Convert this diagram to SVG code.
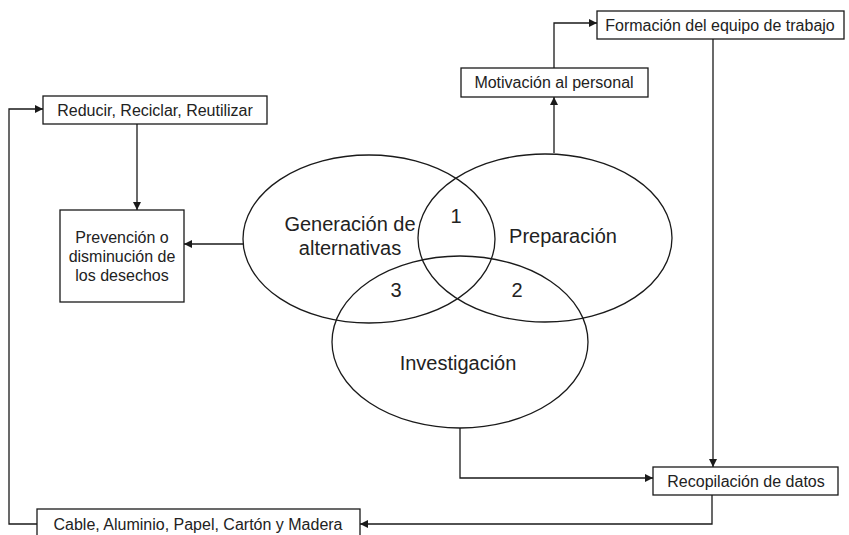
<svg xmlns="http://www.w3.org/2000/svg" width="849" height="535" viewBox="0 0 849 535">
  <style>
    .box { fill: #fff; stroke: #1a1a1a; stroke-width: 1.3; }
    .ell { fill: none; stroke: #1a1a1a; stroke-width: 1.3; }
    .wire { fill: none; stroke: #1a1a1a; stroke-width: 1.3; }
    .t { font-family: "Liberation Sans", Arial, sans-serif; font-size: 16px; fill: #222; text-anchor: middle; }
    .big { font-size: 20px; }
  </style>
  <defs>
    <marker id="arrow" viewBox="0 0 10 10" refX="10" refY="5" markerWidth="8" markerHeight="8" markerUnits="userSpaceOnUse" orient="auto">
      <path d="M0,0 L10,5 L0,10 z" fill="#1a1a1a"/>
    </marker>
  </defs>

  <rect width="849" height="535" fill="#fff"/>

  <!-- Venn circles -->
  <g id="generacion">
    <ellipse class="ell" cx="369" cy="239" rx="126" ry="84"/>
    <text class="t big" x="350" y="231">Generación de</text>
    <text class="t big" x="350" y="255">alternativas</text>
  </g>
  <g id="preparacion">
    <ellipse class="ell" cx="545" cy="238" rx="127" ry="84"/>
    <text class="t big" x="563" y="243">Preparación</text>
  </g>
  <g id="investigacion">
    <ellipse class="ell" cx="460" cy="342" rx="128" ry="86"/>
    <text class="t big" x="458" y="370">Investigación</text>
  </g>
  <g id="zonas">
    <text class="t big" x="456" y="223">1</text>
    <text class="t big" x="517" y="297">2</text>
    <text class="t big" x="396" y="297">3</text>
  </g>

  <!-- Boxes -->
  <g id="reducir">
    <rect class="box" x="43" y="96" width="224" height="28"/>
    <text class="t" x="155" y="116">Reducir, Reciclar, Reutilizar</text>
  </g>
  <g id="prevencion">
    <rect class="box" x="60" y="210" width="124" height="92"/>
    <text class="t" x="122" y="243">Prevención o</text>
    <text class="t" x="122" y="262">disminución de</text>
    <text class="t" x="122" y="281">los desechos</text>
  </g>
  <g id="motivacion">
    <rect class="box" x="461" y="68" width="187" height="29"/>
    <text class="t" x="554" y="88">Motivación al personal</text>
  </g>
  <g id="formacion">
    <rect class="box" x="597" y="11" width="247" height="28"/>
    <text class="t" x="720" y="31">Formación del equipo de trabajo</text>
  </g>
  <g id="recopilacion">
    <rect class="box" x="653" y="467" width="185" height="28"/>
    <text class="t" x="746" y="487">Recopilación de datos</text>
  </g>
  <g id="materiales">
    <rect class="box" x="37" y="509" width="323" height="30"/>
    <text class="t" x="198" y="530">Cable, Aluminio, Papel, Cartón y Madera</text>
  </g>

  <!-- Connectors -->
  <g id="connectors">
    <path class="wire" d="M137,124 V210" marker-end="url(#arrow)"/>
    <path class="wire" d="M243,244 H184" marker-end="url(#arrow)"/>
    <path class="wire" d="M554,153 V97" marker-end="url(#arrow)"/>
    <path class="wire" d="M554,68 V23 H597" marker-end="url(#arrow)"/>
    <path class="wire" d="M713,39 V467" marker-end="url(#arrow)"/>
    <path class="wire" d="M460,428 V478 H653" marker-end="url(#arrow)"/>
    <path class="wire" d="M712,495 V524 H360" marker-end="url(#arrow)"/>
    <path class="wire" d="M37,524 H9 V109 H43" marker-end="url(#arrow)"/>
  </g>
</svg>
